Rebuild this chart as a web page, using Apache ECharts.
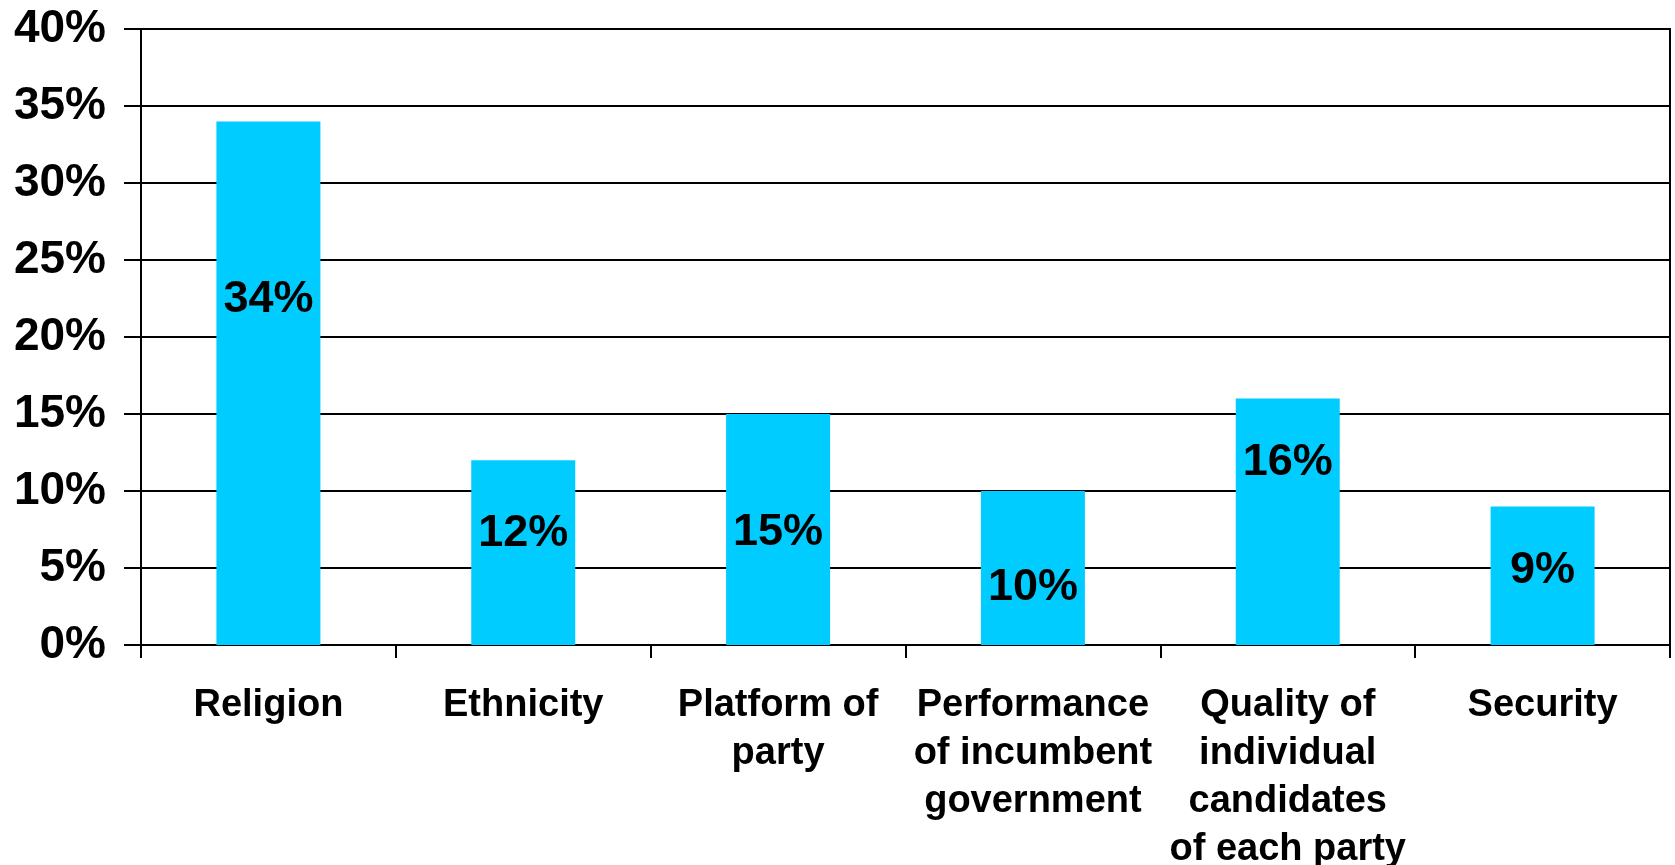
<!DOCTYPE html>
<html>
<head>
<meta charset="utf-8">
<script src="https://cdn.jsdelivr.net/npm/echarts@6/dist/echarts.min.js"></script>
<style>
  html, body { margin: 0; padding: 0; background: #fff; }
  #chart { width: 1675px; height: 865px; }
</style>
</head>
<body>
<div id="chart"></div>
<script>
// categories (line breaks as printed under the axis)
var categories = ['Religion', 'Ethnicity', 'Platform of\nparty', 'Performance\nof incumbent\ngovernment', 'Quality of\nindividual\ncandidates\nof each party', 'Security'];
// share of respondents, %
var shares = [34, 12, 15, 10, 16, 9];
var yTicks = { min: 0, max: 40, step: 5 };

// vertical nudge of each value label (px), Excel placed them unevenly
var labelShift = [-84, -19, 3, 20, -59, -5];

var font = '"Liberation Sans", Arial, sans-serif';

var myChart = echarts.init(document.getElementById('chart'));
myChart.setOption({
    animation: false,
    grid: {
        left: 141,
        top: 29,
        right: 5,
        bottom: 220,
        outerBoundsMode: 'none',
        show: true,
        borderColor: '#000',
        borderWidth: 2
    },
    xAxis: {
        type: 'category',
        data: categories,
        axisLine: { lineStyle: { color: '#000', width: 2 } },
        axisTick: { show: true, length: 13, lineStyle: { color: '#000', width: 2 } },
        axisLabel: {
            interval: 0,
            margin: 37,
            color: '#000',
            fontFamily: font,
            fontWeight: 'bold',
            fontSize: 38,
            lineHeight: 48
        }
    },
    yAxis: {
        type: 'value',
        min: yTicks.min,
        max: yTicks.max,
        interval: yTicks.step,
        axisLine: { show: true, lineStyle: { color: '#000', width: 2 } },
        axisTick: { show: true, length: 17, lineStyle: { color: '#000', width: 2 } },
        splitLine: { lineStyle: { color: '#000', width: 2 } },
        axisLabel: {
            margin: 35,
            formatter: '{value}%',
            color: '#000',
            fontFamily: font,
            fontWeight: 'bold',
            fontSize: 46
        }
    },
    series: [{
        type: 'bar',
        barWidth: 104,
        itemStyle: { color: '#00CCFF' },
        data: shares.map(function (v, i) {
            return { value: v, label: { offset: [0, labelShift[i]] } };
        }),
        label: {
            show: true,
            position: 'inside',
            formatter: '{c}%',
            color: '#000',
            fontFamily: font,
            fontWeight: 'bold',
            fontSize: 45
        }
    }]
});
</script>
</body>
</html>
